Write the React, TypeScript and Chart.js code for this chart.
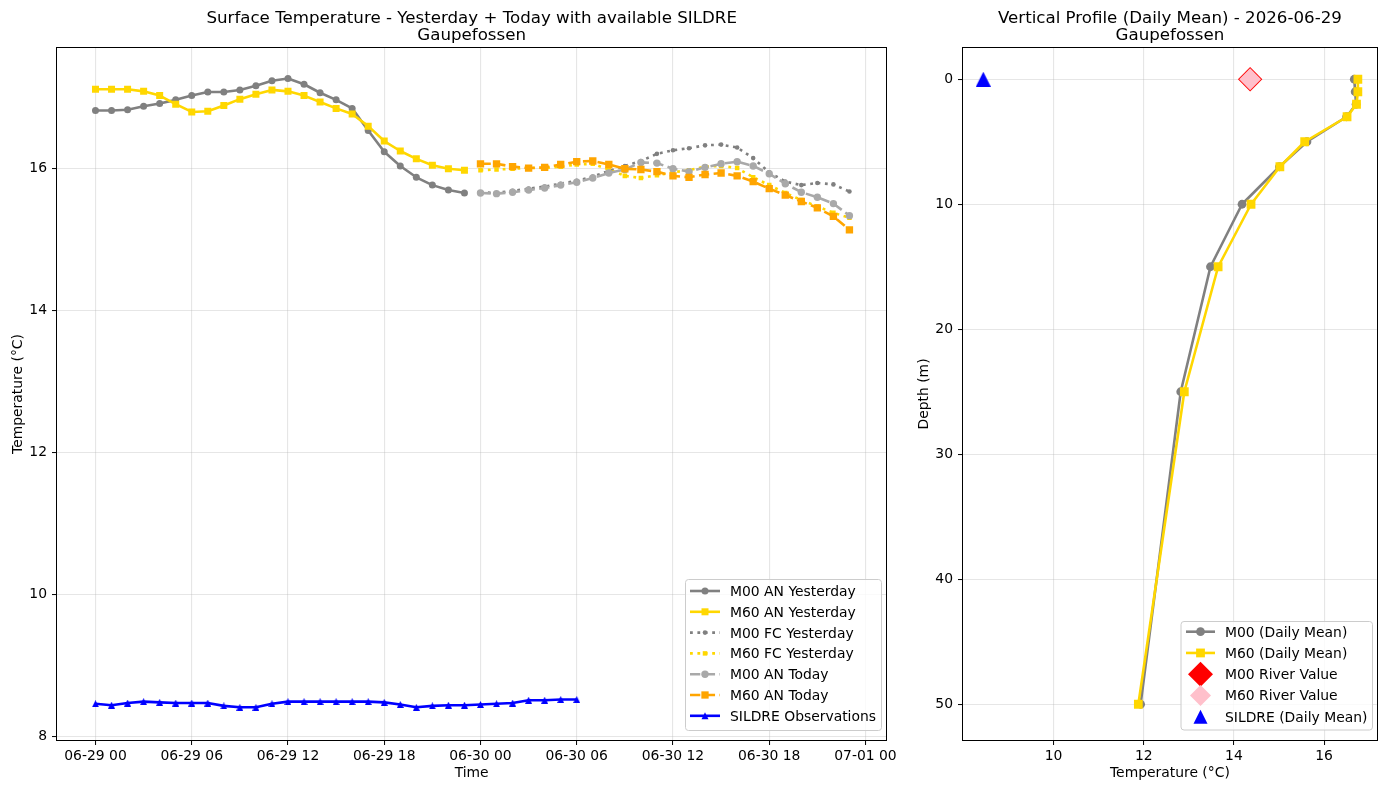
import { useEffect, useRef } from 'react';
import { Chart, registerables } from 'chart.js';

Chart.register(...registerables);

const FONT_FAMILY = '"DejaVu Sans", "Liberation Sans", Arial, sans-serif';
const TICK_PX = 13.9;
const TITLE_PX = 16.67;

// ---------- surface temperature (x = hours since 06-29 00:00) ----------
const hoursYesterday = [0, 1, 2, 3, 4, 5, 6, 7, 8, 9, 10, 11, 12, 13, 14, 15, 16, 17, 18, 19, 20, 21, 22, 23];
const hoursToday = [24, 25, 26, 27, 28, 29, 30, 31, 32, 33, 34, 35, 36, 37, 38, 39, 40, 41, 42, 43, 44, 45, 46, 47];
const hoursSildre = [0, 1, 2, 3, 4, 5, 6, 7, 8, 9, 10, 11, 12, 13, 14, 15, 16, 17, 18, 19, 20, 21, 22, 23, 24, 25, 26, 27, 28, 29, 30];

const m00AnYesterday = [16.81, 16.81, 16.82, 16.87, 16.91, 16.96, 17.02, 17.07, 17.07, 17.10, 17.16, 17.23, 17.26, 17.18, 17.06, 16.96, 16.84, 16.53, 16.23, 16.03, 15.87, 15.76, 15.69, 15.65];
const m60AnYesterday = [17.11, 17.11, 17.11, 17.08, 17.02, 16.90, 16.79, 16.80, 16.88, 16.97, 17.04, 17.10, 17.08, 17.02, 16.93, 16.84, 16.76, 16.59, 16.38, 16.24, 16.13, 16.04, 15.99, 15.97];
const m00FcYesterday = [15.66, 15.65, 15.68, 15.71, 15.74, 15.78, 15.82, 15.88, 15.96, 16.03, 16.10, 16.20, 16.25, 16.28, 16.32, 16.33, 16.29, 16.14, 15.94, 15.81, 15.76, 15.79, 15.77, 15.67];
const m60FcYesterday = [15.97, 15.98, 15.99, 16.00, 16.00, 16.02, 16.05, 16.06, 15.98, 15.89, 15.86, 15.90, 15.94, 15.97, 16.02, 16.03, 16.00, 15.87, 15.76, 15.65, 15.55, 15.46, 15.37, 15.30];
const m00AnToday = [15.65, 15.64, 15.66, 15.69, 15.72, 15.76, 15.80, 15.86, 15.93, 15.98, 16.08, 16.07, 15.99, 15.95, 16.01, 16.06, 16.09, 16.03, 15.92, 15.78, 15.66, 15.59, 15.50, 15.33];
const m60AnToday = [16.06, 16.06, 16.02, 16.00, 16.01, 16.05, 16.09, 16.10, 16.05, 15.99, 15.98, 15.95, 15.89, 15.87, 15.91, 15.93, 15.89, 15.81, 15.71, 15.62, 15.53, 15.44, 15.32, 15.13];
const sildreObs = [8.46, 8.44, 8.47, 8.49, 8.48, 8.47, 8.47, 8.47, 8.43, 8.41, 8.41, 8.46, 8.49, 8.49, 8.49, 8.49, 8.49, 8.49, 8.48, 8.45, 8.41, 8.43, 8.44, 8.44, 8.45, 8.46, 8.47, 8.51, 8.51, 8.52, 8.52];

const timeTickHours = [0, 6, 12, 18, 24, 30, 36, 42, 48];
const timeTickLabels = ['06-29 00', '06-29 06', '06-29 12', '06-29 18', '06-30 00', '06-30 06', '06-30 12', '06-30 18', '07-01 00'];
const tempTicks = [8, 10, 12, 14, 16];

// ---------- vertical profile (daily mean) ----------
const profileDepths = [0, 1, 2, 3, 5, 7, 10, 15, 25, 50];
const m00ProfileMean = [16.67, 16.69, 16.71, 16.50, 15.62, 15.01, 14.18, 13.48, 12.82, 11.93];
const m60ProfileMean = [16.75, 16.75, 16.72, 16.51, 15.57, 15.02, 14.38, 13.65, 12.90, 11.88];
const m00RiverValue = 14.36;
const m60RiverValue = 14.36;
const riverDepth = 0;
const sildreDailyMean = 8.44;
const sildreDepth = 0;
const profileTempTicks = [10, 12, 14, 16];
const depthTicks = [0, 10, 20, 30, 40, 50];

// ---------- colours ----------
const GRAY = '#808080';
const DARKGRAY = '#a9a9a9';
const GOLD = '#ffd700';
const ORANGE = '#ffa500';
const BLUE = '#0000ff';
const RED = '#ff0000';
const PINK = '#ffc0cb';
const GRID = 'rgba(176,176,176,0.32)';

const DOTTED = [2.8, 4.6];
const DASHED = [10.3, 4.45];

type Marker = 'circle' | 'rect' | 'diamond' | 'triangle';

function pts(xs: number[], ys: number[]) {
  return xs.map((x, i) => ({ x, y: ys[i] }));
}

// upward triangle with equal width and height, centred on its box
function triangleMarker(size: number, color: string) {
  const c = document.createElement('canvas');
  c.width = size;
  c.height = size;
  const g = c.getContext('2d')!;
  g.fillStyle = color;
  g.beginPath();
  g.moveTo(size / 2, 0);
  g.lineTo(size, size);
  g.lineTo(0, size);
  g.closePath();
  g.fill();
  return c;
}

function drawMarker(ctx: CanvasRenderingContext2D, kind: Marker, x: number, y: number, size: number, color: string) {
  ctx.save();
  ctx.fillStyle = color;
  ctx.beginPath();
  if (kind === 'circle') {
    ctx.arc(x, y, size, 0, Math.PI * 2);
  } else if (kind === 'rect') {
    ctx.rect(x - size / 2, y - size / 2, size, size);
  } else if (kind === 'diamond') {
    ctx.moveTo(x, y - size);
    ctx.lineTo(x + size, y);
    ctx.lineTo(x, y + size);
    ctx.lineTo(x - size, y);
    ctx.closePath();
  } else {
    ctx.moveTo(x, y - size / 2);
    ctx.lineTo(x + size / 2, y + size / 2);
    ctx.lineTo(x - size / 2, y + size / 2);
    ctx.closePath();
  }
  ctx.fill();
  ctx.restore();
}

interface LegendEntry {
  label: string;
  color: string;
  dash: number[] | null;
  line: boolean;
  marker: Marker;
  size: number;
  markerColor?: string;
}

interface LegendBox {
  x: number;
  y: number;
  w: number;
  h: number;
  row0: number;
  dy: number;
  hx0: number;
  hx1: number;
  tx: number;
}

function roundRect(ctx: CanvasRenderingContext2D, x: number, y: number, w: number, h: number, r: number) {
  ctx.beginPath();
  ctx.moveTo(x + r, y);
  ctx.lineTo(x + w - r, y);
  ctx.quadraticCurveTo(x + w, y, x + w, y + r);
  ctx.lineTo(x + w, y + h - r);
  ctx.quadraticCurveTo(x + w, y + h, x + w - r, y + h);
  ctx.lineTo(x + r, y + h);
  ctx.quadraticCurveTo(x, y + h, x, y + h - r);
  ctx.lineTo(x, y + r);
  ctx.quadraticCurveTo(x, y, x + r, y);
  ctx.closePath();
}

function drawLegend(ctx: CanvasRenderingContext2D, b: LegendBox, entries: LegendEntry[]) {
  ctx.save();
  roundRect(ctx, b.x, b.y, b.w, b.h, 3);
  ctx.fillStyle = 'rgba(255,255,255,0.8)';
  ctx.fill();
  ctx.strokeStyle = '#cccccc';
  ctx.lineWidth = 1;
  ctx.stroke();
  entries.forEach((e, i) => {
    const cy = b.row0 + i * b.dy;
    if (e.line) {
      ctx.save();
      ctx.strokeStyle = e.color;
      ctx.lineWidth = 2.6;
      ctx.lineCap = 'butt';
      ctx.setLineDash(e.dash ?? []);
      ctx.beginPath();
      ctx.moveTo(b.hx0, cy);
      ctx.lineTo(b.hx1, cy);
      ctx.stroke();
      ctx.restore();
    }
    drawMarker(ctx, e.marker, (b.hx0 + b.hx1) / 2, cy, e.size, e.markerColor ?? e.color);
    ctx.fillStyle = '#000';
    ctx.font = `${TICK_PX}px ${FONT_FAMILY}`;
    ctx.textAlign = 'left';
    ctx.textBaseline = 'alphabetic';
    ctx.fillText(e.label, b.tx, cy + 5);
  });
  ctx.restore();
}

function drawFrame(ctx: CanvasRenderingContext2D, a: { left: number; right: number; top: number; bottom: number }) {
  ctx.save();
  ctx.strokeStyle = '#000';
  ctx.lineWidth = 1;
  ctx.strokeRect(Math.round(a.left) - 0.5, Math.round(a.top) - 0.5, Math.round(a.right - a.left) + 1, Math.round(a.bottom - a.top) + 1);
  ctx.restore();
}

function drawTitles(ctx: CanvasRenderingContext2D, cx: number, lines: string[]) {
  ctx.save();
  ctx.fillStyle = '#000';
  ctx.font = `${TITLE_PX}px ${FONT_FAMILY}`;
  ctx.textAlign = 'center';
  ctx.textBaseline = 'alphabetic';
  ctx.fillText(lines[0], cx, 23);
  ctx.fillText(lines[1], cx, 39.5);
  ctx.restore();
}

function drawAxisTitles(ctx: CanvasRenderingContext2D, a: { left: number; right: number; top: number; bottom: number }, xTitle: string, yTitle: string, yTitleX: number) {
  ctx.save();
  ctx.fillStyle = '#000';
  ctx.font = `${TICK_PX}px ${FONT_FAMILY}`;
  ctx.textAlign = 'center';
  ctx.textBaseline = 'alphabetic';
  ctx.fillText(xTitle, (a.left + a.right) / 2, 777);
  ctx.translate(yTitleX, (a.top + a.bottom) / 2);
  ctx.rotate(-Math.PI / 2);
  ctx.fillText(yTitle, 0, 5);
  ctx.restore();
}

function linearAxis(min: number, max: number, ticks: number[], labels: string[] | null, fit: (s: any) => void, padding: number, reverse = false) {
  return {
    type: 'linear' as const,
    min,
    max,
    reverse,
    afterBuildTicks: (s: any) => {
      s.ticks = ticks.map((v) => ({ value: v }));
    },
    afterFit: fit,
    grid: { color: GRID, lineWidth: 1.1, drawTicks: true, tickLength: 5, tickColor: '#000', tickWidth: 1 },
    border: { display: false },
    ticks: {
      autoSkip: false,
      maxRotation: 0,
      minRotation: 0,
      padding,
      color: '#000',
      font: { family: FONT_FAMILY, size: TICK_PX },
      callback: (v: any, i: number) => (labels ? labels[i] : String(v)),
    },
  };
}

function lineSet(label: string, xs: number[], ys: number[], color: string, dash: number[], style: any, radius: number) {
  return {
    label,
    data: pts(xs, ys),
    borderColor: color,
    backgroundColor: color,
    borderWidth: 2.6,
    borderDash: dash,
    borderCapStyle: 'butt' as const,
    borderJoinStyle: 'round' as const,
    pointStyle: style,
    pointRadius: radius,
    pointHoverRadius: radius,
    pointBorderWidth: 0,
    pointBackgroundColor: color,
    fill: false,
    tension: 0,
  };
}

const surfaceLegend: LegendEntry[] = [
  { label: 'M00 AN Yesterday', color: GRAY, dash: null, line: true, marker: 'circle', size: 3.5 },
  { label: 'M60 AN Yesterday', color: GOLD, dash: null, line: true, marker: 'rect', size: 7 },
  { label: 'M00 FC Yesterday', color: GRAY, dash: DOTTED, line: true, marker: 'circle', size: 2.3 },
  { label: 'M60 FC Yesterday', color: GOLD, dash: DOTTED, line: true, marker: 'rect', size: 4.5 },
  { label: 'M00 AN Today', color: DARKGRAY, dash: DASHED, line: true, marker: 'circle', size: 3.7 },
  { label: 'M60 AN Today', color: ORANGE, dash: DASHED, line: true, marker: 'rect', size: 7.3 },
  { label: 'SILDRE Observations', color: BLUE, dash: null, line: true, marker: 'triangle', size: 7 },
];

const profileLegend: LegendEntry[] = [
  { label: 'M00 (Daily Mean)', color: GRAY, dash: null, line: true, marker: 'circle', size: 4.4 },
  { label: 'M60 (Daily Mean)', color: GOLD, dash: null, line: true, marker: 'rect', size: 8.8 },
  { label: 'M00 River Value', color: RED, dash: null, line: false, marker: 'diamond', size: 12.5 },
  { label: 'M60 River Value', color: PINK, dash: null, line: false, marker: 'diamond', size: 10.5 },
  { label: 'SILDRE (Daily Mean)', color: BLUE, dash: null, line: false, marker: 'triangle', size: 14 },
];

export default function App() {
  const leftRef = useRef<HTMLCanvasElement>(null);
  const rightRef = useRef<HTMLCanvasElement>(null);

  useEffect(() => {
    const smallTri = triangleMarker(7, BLUE);
    const bigTri = triangleMarker(15, BLUE);

    const surfaceSets = [
      lineSet('M00 AN Yesterday', hoursYesterday, m00AnYesterday, GRAY, [], 'circle', 3.5),
      lineSet('M60 AN Yesterday', hoursYesterday, m60AnYesterday, GOLD, [], 'rect', 4.95),
      lineSet('M00 FC Yesterday', hoursToday, m00FcYesterday, GRAY, DOTTED, 'circle', 2.3),
      lineSet('M60 FC Yesterday', hoursToday, m60FcYesterday, GOLD, DOTTED, 'rect', 3.2),
      lineSet('M00 AN Today', hoursToday, m00AnToday, DARKGRAY, DASHED, 'circle', 3.7),
      lineSet('M60 AN Today', hoursToday, m60AnToday, ORANGE, DASHED, 'rect', 5.2),
      lineSet('SILDRE Observations', hoursSildre, sildreObs, BLUE, [], smallTri, 3.5),
    ].map((d, i, arr) => ({ ...d, order: arr.length - i }));

    const surfaceDecor = {
      id: 'surfaceDecor',
      afterDraw(chart: any) {
        const { ctx, chartArea: a } = chart;
        drawFrame(ctx, a);
        drawTitles(ctx, (a.left + a.right) / 2, ['Surface Temperature - Yesterday + Today with available SILDRE', 'Gaupefossen']);
        drawAxisTitles(ctx, a, 'Time', 'Temperature (°C)', 17);
        drawLegend(ctx, { x: 685.5, y: 579.5, w: 196, h: 151, row0: 591, dy: 20.8, hx0: 690, hx1: 720, tx: 730 }, surfaceLegend);
      },
    };

    const left = new Chart(leftRef.current!, {
      type: 'line',
      data: { datasets: surfaceSets as any },
      options: {
        responsive: false,
        animation: false,
        devicePixelRatio: 1,
        events: [],
        layout: { padding: { left: 0, right: 12, top: 48, bottom: 0 } },
        plugins: { legend: { display: false }, title: { display: false }, tooltip: { enabled: false } },
        scales: {
          x: linearAxis(-2.4, 49.3, timeTickHours, timeTickLabels, (s: any) => { s.height = 50; }, 3),
          y: linearAxis(7.95, 17.69, tempTicks, null, (s: any) => { s.width = 57; }, 5),
        },
      } as any,
      plugins: [surfaceDecor],
    });

    const profileSets = [
      lineSet('M00 (Daily Mean)', m00ProfileMean, profileDepths, GRAY, [], 'circle', 4.4),
      lineSet('M60 (Daily Mean)', m60ProfileMean, profileDepths, GOLD, [], 'rect', 6.2),
      { ...lineSet('M00 River Value', [m00RiverValue], [riverDepth], RED, [], 'rectRot', 12.2), showLine: false },
      { ...lineSet('M60 River Value', [m60RiverValue], [riverDepth], PINK, [], 'rectRot', 10.9), showLine: false },
      { ...lineSet('SILDRE (Daily Mean)', [sildreDailyMean], [sildreDepth], BLUE, [], bigTri, 7.5), showLine: false },
    ].map((d, i, arr) => ({ ...d, order: arr.length - i }));

    const profileDecor = {
      id: 'profileDecor',
      afterDraw(chart: any) {
        const { ctx, chartArea: a } = chart;
        drawFrame(ctx, a);
        drawTitles(ctx, (a.left + a.right) / 2, ['Vertical Profile (Daily Mean) - 2026-06-29', 'Gaupefossen']);
        drawAxisTitles(ctx, a, 'Temperature (°C)', 'Depth (m)', 23);
        drawLegend(ctx, { x: 281, y: 621.5, w: 191.5, h: 108.5, row0: 631.7, dy: 21.25, hx0: 286, hx1: 315, tx: 325 }, profileLegend);
      },
    };

    const right = new Chart(rightRef.current!, {
      type: 'line',
      data: { datasets: profileSets as any },
      options: {
        responsive: false,
        animation: false,
        devicePixelRatio: 1,
        events: [],
        layout: { padding: { left: 0, right: 8, top: 48, bottom: 0 } },
        plugins: { legend: { display: false }, title: { display: false }, tooltip: { enabled: false } },
        scales: {
          x: linearAxis(7.99, 17.17, profileTempTicks, null, (s: any) => { s.height = 50; }, 3),
          y: linearAxis(-2.5, 52.86, depthTicks, null, (s: any) => { s.width = 63; }, 5, true),
        },
      } as any,
      plugins: [profileDecor],
    });

    return () => {
      left.destroy();
      right.destroy();
    };
  }, []);

  return (
    <div style={{ position: 'absolute', left: 0, top: 0, width: 1389, height: 790, background: '#ffffff' }}>
      <canvas ref={leftRef} width={900} height={790} style={{ position: 'absolute', left: 0, top: 0 }} />
      <canvas ref={rightRef} width={489} height={790} style={{ position: 'absolute', left: 900, top: 0 }} />
    </div>
  );
}
